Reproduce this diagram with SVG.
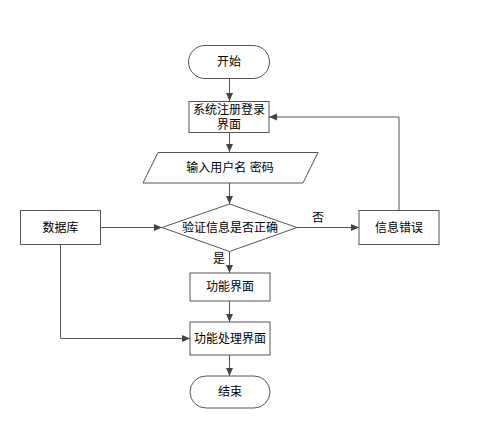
<svg xmlns="http://www.w3.org/2000/svg" width="498" height="429" viewBox="0 0 498 429">
<style>
.n{fill:#fff;stroke:#555;stroke-width:1}
.t{font-family:"Liberation Sans","Noto Sans CJK SC",sans-serif;font-size:12px;fill:#000;text-anchor:middle;dominant-baseline:central}
.c{fill:none;stroke:#555;stroke-width:1}
</style>
<defs>
<marker id="a" markerUnits="userSpaceOnUse" markerWidth="9" markerHeight="8" refX="8" refY="4" orient="auto">
<path d="M0,0.5 L8,4 L0,7.5 z" fill="#444"/>
</marker>
</defs>
<rect width="498" height="429" fill="#fff"/>
<g id="connectors">
<path class="c" d="M229.5,78 V101" marker-end="url(#a)"/>
<path class="c" d="M229.5,132 V152" marker-end="url(#a)"/>
<path class="c" d="M229.5,183 V204" marker-end="url(#a)"/>
<path class="c" d="M101,227.5 H162" marker-end="url(#a)"/>
<path class="c" d="M297,227.5 H359" marker-end="url(#a)"/>
<text class="t" x="318" y="218">否</text>
<path class="c" d="M399,210 V117 H269" marker-end="url(#a)"/>
<path class="c" d="M229.5,251.5 V273" marker-end="url(#a)"/>
<text class="t" x="219" y="259">是</text>
<path class="c" d="M229.5,301 V322" marker-end="url(#a)"/>
<path class="c" d="M60.5,244 V338.5 H190" marker-end="url(#a)"/>
<path class="c" d="M229.5,355 V376" marker-end="url(#a)"/>
</g>
<g id="start">
<rect class="n" x="188.5" y="45.5" width="81" height="33" rx="16.5"/>
<text class="t" x="229" y="62">开始</text>
</g>
<g id="login">
<rect class="n" x="189" y="101.5" width="80" height="31"/>
<text class="t" x="229" y="110">系统注册登录</text>
<text class="t" x="229" y="125">界面</text>
</g>
<g id="input">
<polygon class="n" points="158,152.5 318,152.5 303,183 143,183"/>
<text class="t" x="230" y="168">输入用户名 密码</text>
</g>
<g id="verify">
<polygon class="n" points="229.5,204 297,227.5 229.5,251.5 162,227.5"/>
<text class="t" x="230" y="228">验证信息是否正确</text>
</g>
<g id="database">
<rect class="n" x="20.5" y="210.5" width="80" height="34"/>
<text class="t" x="60.5" y="228">数据库</text>
</g>
<g id="error">
<rect class="n" x="359" y="210.5" width="80" height="34"/>
<text class="t" x="399" y="228">信息错误</text>
</g>
<g id="func">
<rect class="n" x="190" y="273" width="80" height="28"/>
<text class="t" x="230" y="287">功能界面</text>
</g>
<g id="process">
<rect class="n" x="190" y="322" width="80" height="33"/>
<text class="t" x="230" y="339">功能处理界面</text>
</g>
<g id="end">
<rect class="n" x="190" y="376" width="80" height="32" rx="16"/>
<text class="t" x="230" y="392">结束</text>
</g>
</svg>
